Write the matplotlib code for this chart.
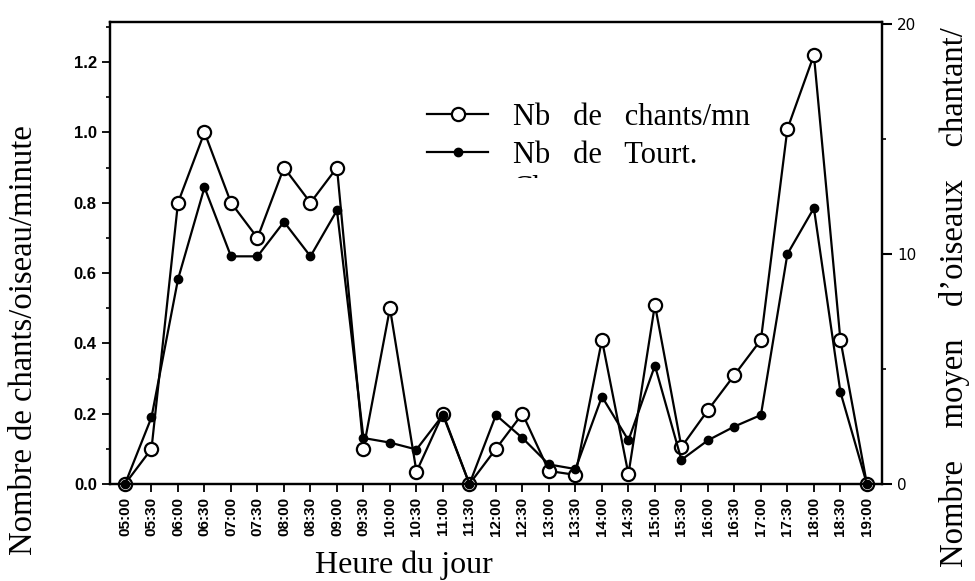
import numpy as np
import matplotlib
matplotlib.use("Agg")
import matplotlib.pyplot as plt
from matplotlib.lines import Line2D
from matplotlib.patches import Rectangle

heures = ["05:00", "05:30", "06:00", "06:30", "07:00", "07:30", "08:00", "08:30",
          "09:00", "09:30", "10:00", "10:30", "11:00", "11:30", "12:00", "12:30",
          "13:00", "13:30", "14:00", "14:30", "15:00", "15:30", "16:00", "16:30",
          "17:00", "17:30", "18:00", "18:30", "19:00"]

# Nb de chants / oiseau / minute (axe gauche)
chants = [0.0, 0.1, 0.8, 1.0, 0.8, 0.7, 0.9, 0.8,
          0.9, 0.1, 0.5, 0.035, 0.2, 0.0, 0.1, 0.2,
          0.037, 0.026, 0.41, 0.028, 0.51, 0.105, 0.21, 0.31,
          0.41, 1.01, 1.22, 0.41, 0.0]

# Nb moyen de tourterelles chantant (axe droit)
tourt = [0.0, 2.9, 8.9, 12.9, 9.9, 9.9, 11.4, 9.9,
         11.9, 2.0, 1.8, 1.5, 3.0, 0.0, 3.0, 2.0,
         0.85, 0.65, 3.8, 1.9, 5.15, 1.05, 1.9, 2.5,
         3.0, 10.0, 12.0, 4.0, 0.0]

serif = "Liberation Serif"
sans = "Liberation Sans"

fig = plt.figure(figsize=(9.75, 5.81), dpi=100)
ax = fig.add_axes([110 / 975, 1 - 484 / 581, 772 / 975, 462 / 581])
ax2 = ax.twinx()

x = np.arange(len(heures))

l1, = ax.plot(x, chants, color="black", lw=1.6, marker="o", ms=9.5,
              mfc="white", mec="black", mew=1.6, zorder=3, clip_on=False)
l2, = ax2.plot(x, tourt, color="black", lw=1.6, marker="o", ms=6,
               mfc="black", mec="black", zorder=4, clip_on=False)

ax.set_xlim(-0.566, 28.57)
ax.set_ylim(0, 1.314)
ax2.set_ylim(0, 20.09)

ax.set_xticks(x)
ax.set_xticklabels(heures, rotation=90, fontsize=11, fontweight="bold", family=sans)
ax.set_yticks(np.arange(0, 1.21, 0.2))
ax.set_yticklabels([f"{v:.1f}" for v in np.arange(0, 1.21, 0.2)],
                   fontsize=12, fontweight="bold", family=sans)
ax.set_yticks(np.arange(0.1, 1.31, 0.2), minor=True)
ax.tick_params(axis="both", which="major", direction="out", length=6, width=1.3)
ax.tick_params(axis="y", which="minor", direction="out", length=3, width=1.2)
ax.tick_params(axis="x", pad=3)

ax2.set_yticks([0, 10, 20])
ax2.set_yticklabels(["0", "10", "20"], fontsize=11, family="DejaVu Sans")
ax2.set_yticks([5, 15], minor=True)
ax2.tick_params(axis="y", which="major", direction="out", length=7, width=1.5, pad=4)
ax2.tick_params(axis="y", which="minor", direction="out", length=3, width=1.2)

for a in (ax, ax2):
    for s in a.spines.values():
        s.set_linewidth(1.6)

# titres des axes
fig.text(24 / 975, 1 - 340 / 581, "Nombre de chants/oiseau/minute", rotation=90,
         ha="center", va="center", fontsize=23.5, family=serif)
fig.text(955 / 975, 1 - 297 / 581, "Nombre    moyen    d\u2019oiseaux    chantant/",
         rotation=90, ha="center", va="center", fontsize=23.5, family=serif)
fig.text(404 / 975, 1 - 573 / 581, "Heure du jour", ha="center", va="baseline",
         fontsize=23, family=serif)

# legende
h1 = Line2D([], [], color="black", lw=1.6, marker="o", ms=9.5, mfc="white", mew=1.6)
h2 = Line2D([], [], color="black", lw=1.6, marker="o", ms=6, mfc="black")
leg = ax.legend([h1, h2], ["Nb   de   chants/mn", "Nb   de   Tourt."],
                loc="upper left", bbox_to_anchor=(427 / 975, 1 - 103 / 581),
                bbox_transform=fig.transFigure, frameon=False, borderpad=0,
                borderaxespad=0, handlelength=2.0, handletextpad=0.8,
                labelspacing=0.28, prop={"family": serif, "size": 22})

t3 = fig.text(513 / 975, 1 - 197 / 581, "Chanteuses", ha="left", va="baseline",
              fontsize=22, family=serif)
clip = Rectangle((0, 1 - 178 / 581), 1, 178 / 581, transform=fig.transFigure)
t3.set_clip_path(clip)

fig.savefig("out.png", dpi=100)
